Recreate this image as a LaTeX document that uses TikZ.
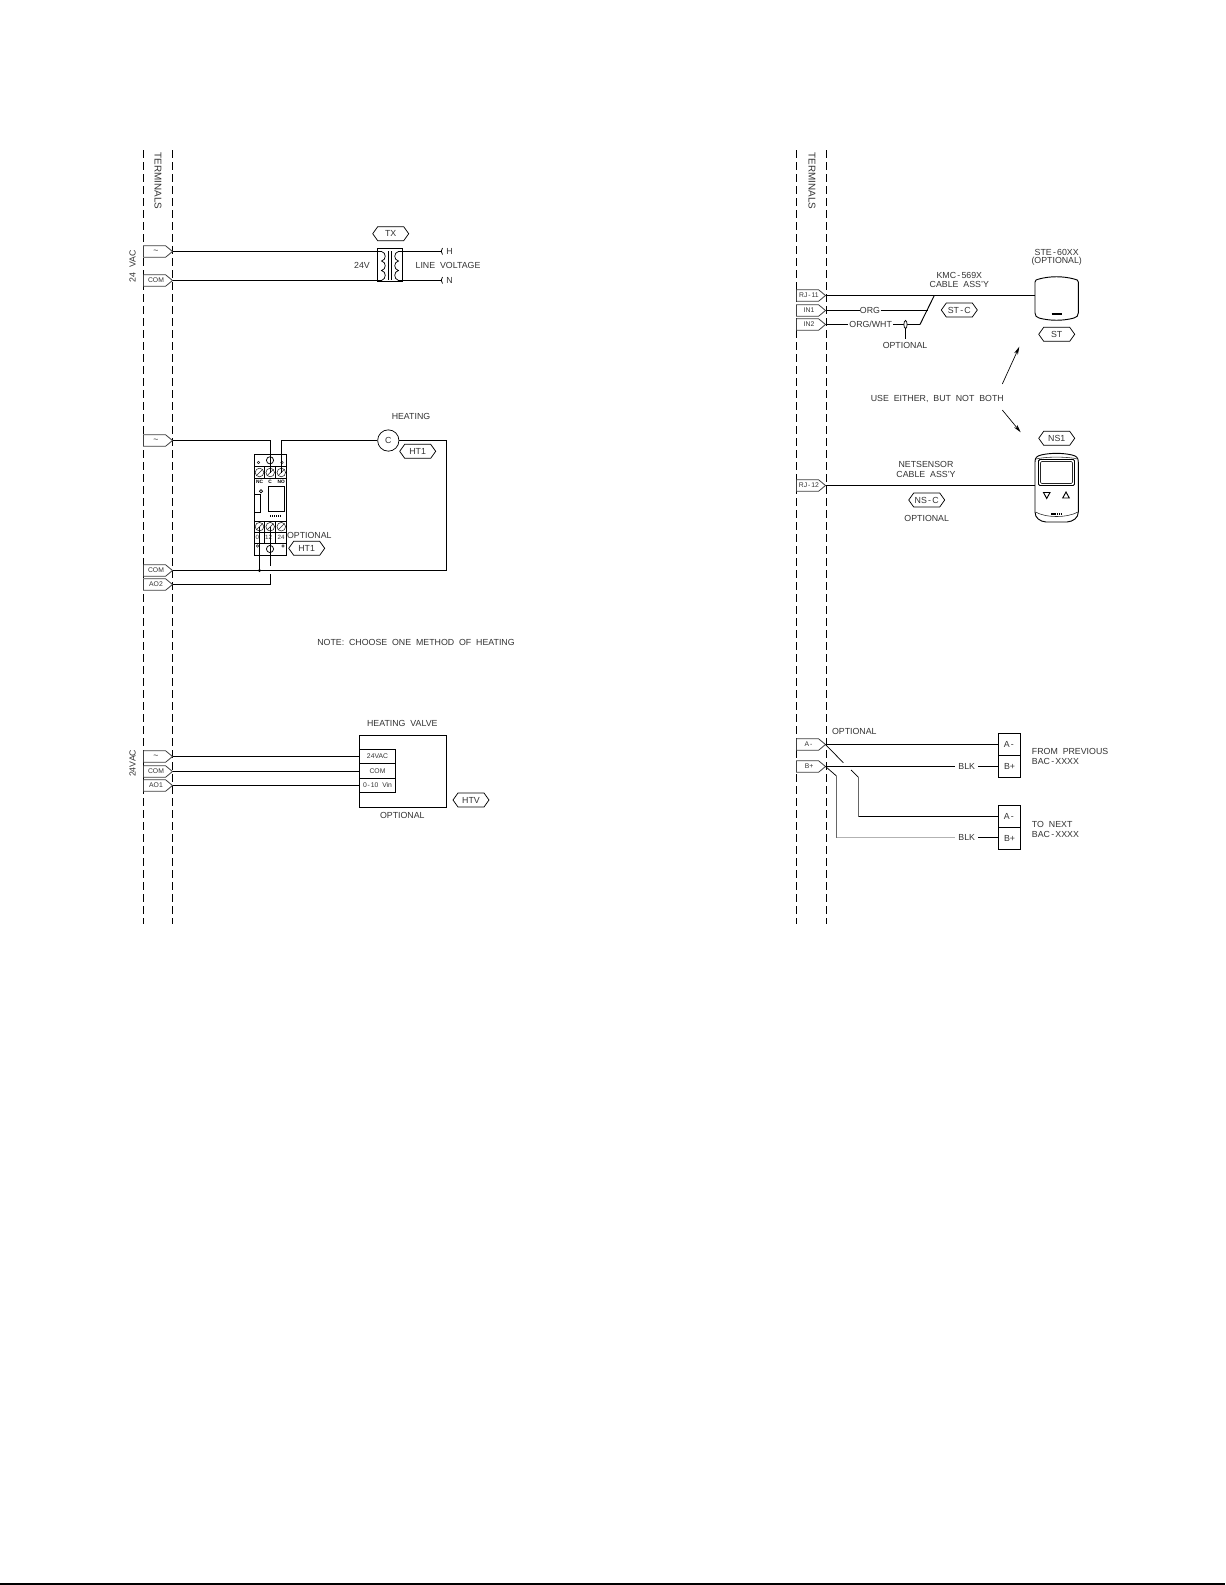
\documentclass[tikz,border=0pt]{standalone}
\usepackage{fontspec}
\setmainfont{Liberation Sans}
\usetikzlibrary{arrows.meta}
\definecolor{ink}{gray}{0.2}
\newcommand{\labfont}{\fontsize{6.6}{8}\selectfont}
\newcommand{\tagfont}{\fontsize{5.1}{6}\selectfont}
\newcommand{\wsp}{\ \ }
\newcommand{\hy}{\kern.14em-\kern.14em}
\tikzset{
  lab/.style={font=\labfont,text=ink,inner sep=0pt,align=center},
  tlab/.style={font=\tagfont,text=ink,inner sep=0pt},
  tiny lab/.style={font=\fontsize{3.6}{4}\selectfont\bfseries,text=black,inner sep=0pt},
  wire/.style={line width=1pt,black},
  thin line/.style={line width=0.55pt,black},
  slash line/.style={line width=0.42pt,black!85},
  med line/.style={line width=0.7pt,black},
  term/.style={line width=0.6pt,black!75},
  rail/.style={line width=0.8pt,black,dash pattern=on 6pt off 3pt},
  pale wire/.style={line width=1pt,black!30},
  grey wire/.style={line width=1pt,black!60},
  pointer/.style={line width=0.5pt,black,-{Stealth[length=6pt,width=3pt]}},
  cellbox/.style={draw,med line,inner sep=0pt,minimum width=27.3pt,font=\tagfont,text=ink},
  busbox/.style={draw,line width=0.9pt,minimum width=16.8pt,minimum height=16.5pt,inner sep=0pt,font=\labfont,text=ink},
}
% terminal tag: name, left x, tip y, label
\newcommand{\ttag}[4]{%
  \draw[term] (#2,#3-5.8) -- (#2+22,#3-5.8) -- (#2+29,#3) -- (#2+22,#3+5.8) -- (#2,#3+5.8) -- cycle;
  \node[tlab] (#1) at (#2+12.5,#3) {#4};
  \coordinate (#1-tip) at (#2+29,#3);}
% hexagon tag: name, centre x, centre y, label
\newcommand{\htag}[4]{%
  \draw[thin line] (#2-18,#3) -- (#2-13,#3-7) -- (#2+13,#3-7) -- (#2+18,#3) -- (#2+13,#3+7) -- (#2-13,#3+7) -- cycle;
  \node[lab] (#1) at (#2,#3) {#4};}
% screw terminal
\newcommand{\screw}[2]{%
  \draw[slash line] (#1,#2) circle[radius=4.3];
  \draw[slash line] (#1-3,#2+3) -- (#1+3,#2-3);}
\begin{document}
\begin{tikzpicture}[x=0.75pt,y=-0.75pt]
\useasboundingbox (0,0) rectangle (1225,1585);
\fill[white] (0,0) rectangle (1225,1585);
\draw[line width=1.3pt] (0,1584) -- (1225,1584);

% rails
\draw[rail] (143.5,150) -- (143.5,924);
\draw[rail] (172.5,150) -- (172.5,924);
\draw[rail] (796.5,150) -- (796.5,924);
\draw[rail] (826.5,150) -- (826.5,924);
\node[lab,rotate=-90,font=\fontsize{7.4}{8}\selectfont] (termL) at (158,181) {TERMINALS};
\node[lab,rotate=-90,font=\fontsize{7.4}{8}\selectfont] (termR) at (812,181) {TERMINALS};

% ---------- transformer
\ttag{acA}{143.5}{251.5}{\fontsize{6.5}{7}\selectfont\textasciitilde}
\ttag{comA}{143.5}{280.5}{COM}
\node[lab,rotate=90] (vacA) at (132.7,266) {24\wsp VAC};
\htag{tx}{390.7}{233.7}{TX}
\draw[med line] (377.5,248.5) rectangle (402.5,281.5);
\coordinate (txTL) at (377.5,251.5);
\coordinate (txBL) at (377.5,280.5);
\coordinate (txTR) at (402.5,251.5);
\coordinate (txBR) at (402.5,280.5);
\coordinate (hEnd) at (441.7,251.5);
\coordinate (nEnd) at (441.7,280.5);
\draw[wire] (acA-tip) -- (txTL);
\draw[wire] (comA-tip) -- (txBL);
\draw[wire] (txTR) -- (hEnd);
\draw[wire] (txBR) -- (nEnd);
\draw[thin line] (442.5,248) .. controls (440.8,250) and (440.8,252.5) .. (442.5,254.5);
\draw[thin line] (442.5,277) .. controls (440.8,279) and (440.8,281.5) .. (442.5,283.5);
\draw[thin line] (377.5,251.5) -- (381.5,251.5)
  .. controls (386.5,252.5) and (386.5,260) .. (381.5,261)
  .. controls (386.5,262) and (386.5,269.5) .. (381.5,270.5)
  .. controls (386.5,271.5) and (386.5,279) .. (381.5,280.5) -- (377.5,280.5);
\draw[thin line] (402.5,251.5) -- (398.5,251.5)
  .. controls (393.5,252.5) and (393.5,260) .. (398.5,261)
  .. controls (393.5,262) and (393.5,269.5) .. (398.5,270.5)
  .. controls (393.5,271.5) and (393.5,279) .. (398.5,280.5) -- (402.5,280.5);
\draw[thin line] (388.5,251) -- (388.5,280);
\draw[thin line] (391.5,251) -- (391.5,280);
\node[lab] (v24) at (362,265.5) {24V};
\node[lab] (hLab) at (449.5,251) {H};
\node[lab] (nLab) at (449.5,280.5) {N};
\node[lab] (line) at (448,265.5) {LINE\wsp VOLTAGE};

% ---------- relay heating
\ttag{acB}{143.5}{440.5}{\fontsize{6.5}{7}\selectfont\textasciitilde}
\ttag{comB}{143.5}{570.5}{COM}
\ttag{aoB}{143.5}{584.5}{AO2}
\node[lab] (heating) at (411,416) {HEATING};
\node[draw,thin line,circle,minimum size=16pt,inner sep=0pt,font=\labfont,text=ink] (cCoil) at (388.3,440.5) {C};
\htag{ht1a}{417.7}{451.3}{HT1}
\node[lab] (optRelay) at (309.3,535) {OPTIONAL};
\htag{ht1b}{306.7}{548.3}{HT1}
% relay body
\draw[med line] (254.5,454.5) rectangle (286.5,555.5);
\draw[med line] (254.5,466.5) -- (286.5,466.5);
\draw[med line] (254.5,478.5) -- (286.5,478.5);
\draw[med line] (254.5,521.5) -- (286.5,521.5);
\draw[med line] (254.5,532.5) -- (286.5,532.5);
\draw[med line] (254.5,543.5) -- (286.5,543.5);
\draw[thin line] (264.5,466.5) -- (264.5,478.5);
\draw[thin line] (275.5,466.5) -- (275.5,478.5);
\draw[thin line] (264.5,521.5) -- (264.5,543.5);
\draw[thin line] (275.5,521.5) -- (275.5,543.5);
\screw{259.5}{472.5}\screw{270.2}{472.5}\screw{281.3}{472.5}
\screw{259.5}{526.7}\screw{270.2}{526.7}\screw{281.3}{526.7}
\draw[thin line] (270,460.3) circle[radius=3.6];
\draw[thin line] (270,549) circle[radius=3.6];
\draw[slash line] (258.5,462.5) circle[radius=1.2];
\draw[slash line] (282,462.5) circle[radius=1.2];
\draw[slash line] (257.5,546) circle[radius=1.2];
\draw[slash line] (283,546) circle[radius=1.2];
\node[tiny lab] (nc) at (259.5,481.8) {NC};
\node[tiny lab] (cc) at (270.2,481.8) {C};
\node[tiny lab] (no) at (281.3,481.8) {NO};
\draw[med line] (268.5,486.5) rectangle (284.5,511.5);
\draw[med line] (254.5,494.5) -- (260.5,494.5) -- (260.5,512.5) -- (254.5,512.5);
\draw[thin line] (261,491.3) circle[radius=1.6];
\draw[line width=0.9pt,dash pattern=on 1pt off 0.5pt] (270,516) -- (281,516);
\node[tlab,font=\fontsize{4.6}{5}\selectfont] (r0) at (257.3,537.5) {0};
\node[tlab,font=\fontsize{4.6}{5}\selectfont] (r12) at (268.5,537.5) {12};
\node[tlab,font=\fontsize{4.6}{5}\selectfont] (r24) at (281,537.5) {24};
% relay wires
\coordinate (relayC) at (270.5,472.5);
\coordinate (relayNO) at (281.5,472.5);
\coordinate (relay0) at (259.5,527);
\coordinate (relay12) at (270.5,527);
\coordinate (comDot) at (259.5,570.5);
\coordinate (heatR) at (446.5,440.5);
\coordinate (heatB) at (446.5,570.5);
\coordinate (aoGap) at (270.5,574);
\coordinate (aoGapT) at (270.5,566);
\draw[wire] (acB-tip) -| (relayC);
\draw[wire] (cCoil.west) -| (relayNO);
\draw[wire] (cCoil.east) -- (heatR) -- (heatB) -- (comB-tip);
\draw[wire] (relay0) -- (comDot);
\fill (comDot) circle[radius=1.6];
\draw[wire] (relay12) -- (aoGapT);
\draw[wire] (aoB-tip) -| (aoGap);
\node[lab] (note) at (416,642.8) {NOTE:\wsp CHOOSE\wsp ONE\wsp METHOD\wsp OF\wsp HEATING};

% ---------- heating valve
\ttag{acC}{143.5}{756.5}{\fontsize{6.5}{7}\selectfont\textasciitilde}
\ttag{comC}{143.5}{771.5}{COM}
\ttag{aoC}{143.5}{785.5}{AO1}
\node[lab,rotate=90] (vacC) at (132.7,763.3) {24VAC};
\node[lab] (hv) at (402.3,723.7) {HEATING\wsp VALVE};
\draw[med line] (359.5,735.5) rectangle (446.5,807.5);
\node[cellbox,minimum height=10.5pt] (v24c) at (377.5,756.3) {24VAC};
\node[cellbox,minimum height=11pt] (vcom) at (377.5,770.7) {COM};
\node[cellbox,minimum height=10.7pt] (v010) at (377.5,785.2) {0\hy 10\ \ Vin};
\draw[wire] (acC-tip) -- (acC-tip -| v24c.west);
\draw[wire] (comC-tip) -- (comC-tip -| vcom.west);
\draw[wire] (aoC-tip) -- (aoC-tip -| v010.west);
\node[lab] (optV) at (402.3,815) {OPTIONAL};
\htag{htv}{471}{800}{HTV}

% ---------- right: thermostat
\ttag{rj11}{796.5}{295.5}{RJ\hy 11}
\ttag{in1}{796.5}{310.5}{IN1}
\ttag{in2}{796.5}{324.5}{IN2}
\node[lab] (org) at (870,310.5) {ORG};
\node[lab] (orgw) at (870.7,324.5) {ORG/WHT};
\coordinate (stIn) at (1035,295.5);
\coordinate (j1) at (927.7,310.5);
\coordinate (j2) at (920,324.5);
\coordinate (j3) at (934.3,295.5);
\coordinate (orgL) at (860,310.5);
\coordinate (orgR) at (880.5,310.5);
\coordinate (owL) at (848.3,324.5);
\coordinate (owR) at (893.3,324.5);
\coordinate (opT) at (905.5,324.5);
\coordinate (opB) at (905.5,338.7);
\draw[wire] (rj11-tip) -- (stIn);
\draw[wire] (in1-tip) -- (orgL);
\draw[wire] (orgR) -- (j1);
\draw[wire] (in2-tip) -- (owL);
\draw[wire] (owR) -- (j2);
\draw[med line] (j2) -- (j3);
\draw[med line] (opT) -- (opB);
\draw[thin line,fill=white] (905.5,324.5) ellipse[x radius=1.6,y radius=4];
\node[lab] (optSt) at (905,345.3) {OPTIONAL};
\node[lab] (kmc) at (959.3,275) {KMC\hy 569X};
\node[lab] (cable1) at (959.3,284.3) {CABLE\wsp ASS'Y};
\htag{stc}{959.3}{310}{ST\hy C}
\node[lab] (ste) at (1056.7,252) {STE\hy 60XX};
\node[lab] (steo) at (1056.7,261.7) {(OPTIONAL)};
\draw[med line] (1035,282) .. controls (1035,280) and (1036.5,279.6) .. (1039,279)
  .. controls (1050,276) and (1063,276) .. (1074,279)
  .. controls (1076.8,279.6) and (1078.3,280) .. (1078.3,282)
  -- (1078.3,313) .. controls (1078.3,316) and (1076.8,317) .. (1074,318)
  .. controls (1063,321) and (1050,321) .. (1039,318)
  .. controls (1036.5,317) and (1035,316) .. (1035,313) -- cycle;
\draw[line width=1.5pt,dash pattern=on 1.2pt off 0.25pt] (1051.5,314) -- (1062,314);
\htag{st}{1056.7}{334.3}{ST}

\node[lab] (either) at (937.3,398.7) {USE\wsp EITHER,\wsp BUT\wsp NOT\wsp BOTH};
\coordinate (aUpS) at (1002.3,384);
\coordinate (aUpE) at (1019.3,346.7);
\coordinate (aDnS) at (1002.3,410);
\coordinate (aDnE) at (1020.7,432.3);
\draw[pointer] (aUpS) -- (aUpE);
\draw[pointer] (aDnS) -- (aDnE);

% ---------- right: netsensor
\htag{ns1}{1056.7}{438.3}{NS1}
\ttag{rj12}{796.5}{485.5}{RJ\hy 12}
\node[lab] (nets) at (926,464.3) {NETSENSOR};
\node[lab] (cable2) at (926,474) {CABLE\wsp ASS'Y};
\coordinate (nsIn) at (1035,485.5);
\draw[wire] (rj12-tip) -- (nsIn);
\htag{nsc}{926.7}{500}{NS\hy C}
\node[lab] (optNs) at (926.7,518.3) {OPTIONAL};
\draw[med line] (1035,462) .. controls (1035,457.5) and (1037,456) .. (1041,455)
  .. controls (1050,452.8) and (1063,452.8) .. (1072,455)
  .. controls (1076.3,456) and (1078.3,457.5) .. (1078.3,462)
  -- (1078.3,512) .. controls (1078.3,518) and (1073,521.5) .. (1067,522)
  -- (1046,522) .. controls (1040,521.5) and (1035,518) .. (1035,512) -- cycle;
\draw[slash line] (1036,459) .. controls (1045,456.5) and (1068,456.5) .. (1077.5,459);
\draw[slash line] (1035.5,512) .. controls (1046,518) and (1067,518) .. (1078,512);
\draw[med line,rounded corners=1pt] (1038.5,459.5) rectangle (1074.5,485.5);
\draw[slash line,rounded corners=1pt] (1040.5,461.5) rectangle (1072.5,483.5);
\draw[med line] (1043.5,492.5) -- (1050,492.5) -- (1046.7,498.5) -- cycle;
\draw[med line] (1062.7,498) -- (1069.3,498) -- (1066,492) -- cycle;
\draw[line width=1.5pt,dash pattern=on 1.2pt off 0.25pt] (1051,514) -- (1061.5,514);

% ---------- right: bus
\ttag{aT}{796.5}{744.5}{A\hy}
\ttag{bT}{796.5}{766.5}{B+}
\node[lab] (optB) at (854.3,731) {OPTIONAL};
\node[busbox] (aPrev) at (1009.5,744.3) {A\hy};
\node[busbox] (bPrev) at (1009.5,766.3) {B+};
\node[busbox] (aNext) at (1009.5,816.7) {A\hy};
\node[busbox] (bNext) at (1009.5,838.5) {B+};
\node[lab] (blk1) at (966.7,766.5) {BLK};
\node[lab] (blk2) at (966.7,837.5) {BLK};
\coordinate (b1L) at (955,766.5);
\coordinate (b1R) at (978.3,766.5);
\coordinate (b2L) at (955,837.5);
\coordinate (b2R) at (978.3,837.5);
\coordinate (d1) at (843.3,762.7);
\coordinate (d2) at (851,770);
\coordinate (d3) at (858.5,777.3);
\coordinate (d4) at (858.5,816.5);
\coordinate (e1) at (836.5,776);
\coordinate (e2) at (836.5,837.5);
\draw[wire] (aT-tip) -- (aT-tip -| aPrev.west);
\draw[wire] (bT-tip) -- (b1L);
\draw[wire] (b1R) -- (b1R -| bPrev.west);
\draw[thin line] (aT-tip) -- (d1);
\draw[thin line] (d2) -- (d3);
\draw[grey wire] (d3) -- (d4);
\draw[wire] (d4) -- (d4 -| aNext.west);
\draw[thin line] (bT-tip) -- (e1);
\draw[grey wire] (e1) -- (e2);
\draw[pale wire] (e2) -- (b2L);
\draw[wire] (b2R) -- (b2R -| bNext.west);
\node[lab,anchor=west] (from) at (1031.7,751.7) {FROM\wsp PREVIOUS};
\node[lab,anchor=west] (bac1) at (1031.7,761.7) {BAC\hy XXXX};
\node[lab,anchor=west] (tonext) at (1031.7,824) {TO\wsp NEXT};
\node[lab,anchor=west] (bac2) at (1031.7,834) {BAC\hy XXXX};
\end{tikzpicture}
\end{document}
